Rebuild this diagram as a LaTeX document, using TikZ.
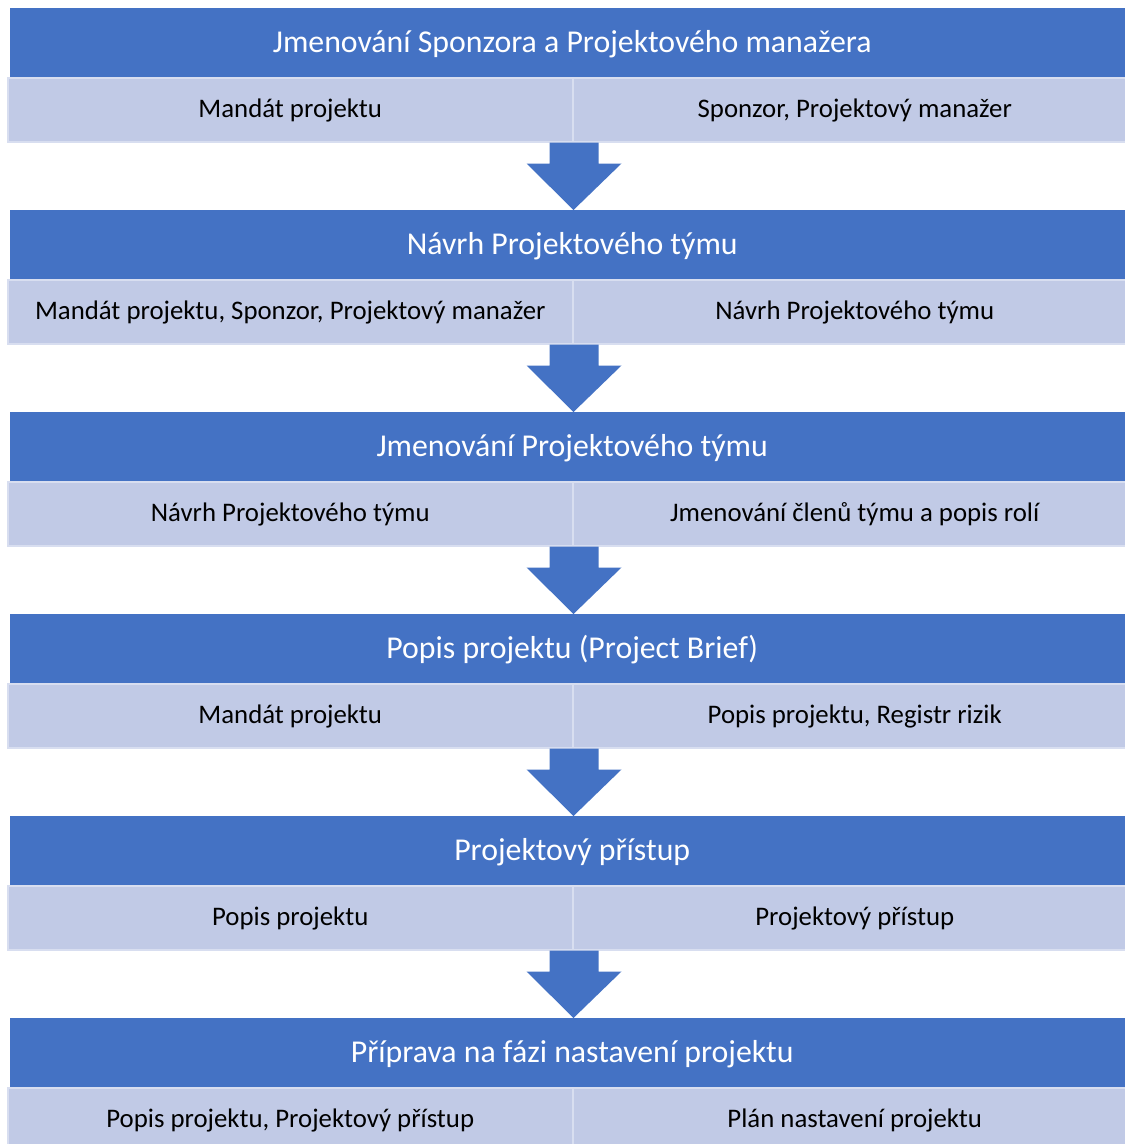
\documentclass[tikz,border=0pt]{standalone}
\usepackage{fontspec}
\setmainfont{Carlito}
\usetikzlibrary{calc}
\definecolor{hdrblue}{HTML}{4472C4}
\definecolor{cellfill}{RGB}{193,202,230}
\definecolor{cellline}{RGB}{216,222,240}
\begin{document}
\begin{tikzpicture}[x=1pt,y=-1pt,
  header/.style={fill=hdrblue, draw=none, text=white, anchor=north west,
    minimum width=1124pt, minimum height=69pt, inner sep=0pt,
    text height=23pt, text depth=4pt,
    font=\fontsize{31.8}{36}\selectfont},
  cellbox/.style={fill=cellfill, draw=cellline, line width=1.5pt, text=black,
    anchor=north west, minimum height=64pt, inner sep=0pt,
    text height=19pt, text depth=3pt,
    font=\fontsize{26.8}{30}\selectfont},
  flowarrow/.style={fill=hdrblue, draw=none}]
\useasboundingbox (0,0) rectangle (1125,1144);
\fill[white] (0,0) rectangle (1125,1144);
\foreach \i/\t/\l/\r in {
  0/{Jmenování Sponzora a Projektového manažera}/{Mandát projektu}/{Sponzor, Projektový manažer},
  1/{Návrh Projektového týmu}/{Mandát projektu, Sponzor, Projektový manažer}/{Návrh Projektového týmu},
  2/{Jmenování Projektového týmu}/{Návrh Projektového týmu}/{Jmenování členů týmu a popis rolí},
  3/{Popis projektu (Project Brief)}/{Mandát projektu}/{Popis projektu, Registr rizik},
  4/{Projektový přístup}/{Popis projektu}/{Projektový přístup},
  5/{Příprava na fázi nastavení projektu}/{Popis projektu, Projektový přístup}/{Plán nastavení projektu}}
{
  \pgfmathsetmacro{\top}{8+202*\i}
  \node[header] (hd\i) at (10,\top) {\t};
  \node[cellbox, minimum width=565pt] (lc\i) at (7,\top+69) {\l};
  \node[cellbox, minimum width=564pt] (rc\i) at (572,\top+69) {\r};
}
% block arrows from each stage down to the next header
\foreach \i [evaluate=\i as \j using int(\i+1)] in {0,...,4}{
  \coordinate (m\i) at (lc\i.south east);
  \coordinate (t\i) at (m\i |- hd\j.north);
  \fill[flowarrow] ($(m\i)+(-24,0)$) -- ($(m\i)+(25,0)$) -- ($(m\i)+(25,21)$)
    -- ($(m\i)+(48,21)$) -- (t\i) -- ($(m\i)+(-47,21)$) -- ($(m\i)+(-24,21)$) -- cycle;
}
\end{tikzpicture}
\end{document}
